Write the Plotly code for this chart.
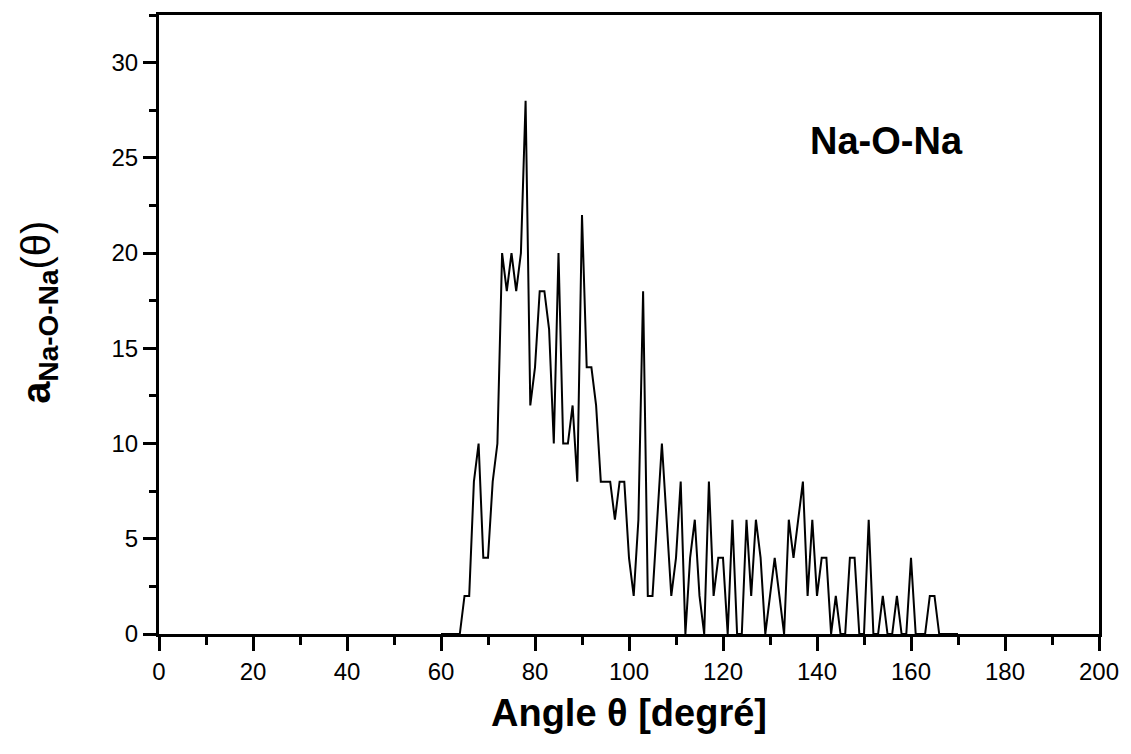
import plotly.graph_objects as go

# Angle (degrees) and distribution values
angles = list(range(60, 171))
counts = [0, 0, 0, 0, 0, 2, 2, 8, 10, 4,        # 60-69
          4, 8, 10, 20, 18, 20, 18, 20, 28, 12,  # 70-79
          14, 18, 18, 16, 10, 20, 10, 10, 12, 8,  # 80-89
          22, 14, 14, 12, 8, 8, 8, 6, 8, 8,       # 90-99
          4, 2, 6, 18, 2, 2, 6, 10, 6, 2,         # 100-109
          4, 8, 0, 4, 6, 2, 0, 8, 2, 4,           # 110-119
          4, 0, 6, 0, 0, 6, 2, 6, 4, 0,           # 120-129
          2, 4, 2, 0, 6, 4, 6, 8, 2, 6,           # 130-139
          2, 4, 4, 0, 2, 0, 0, 4, 4, 0,           # 140-149
          0, 6, 0, 0, 2, 0, 0, 2, 0, 0,           # 150-159
          4, 0, 0, 0, 2, 2, 0, 0, 0, 0,           # 160-169
          0]                                      # 170

x_ticks = [0, 20, 40, 60, 80, 100, 120, 140, 160, 180, 200]
y_ticks = [0, 5, 10, 15, 20, 25, 30]

FONT = "Liberation Sans, Arial, sans-serif"

fig = go.Figure()
fig.add_trace(go.Scatter(x=angles, y=counts, mode="lines",
                         line=dict(color="black", width=2),
                         showlegend=False, hoverinfo="x+y"))

fig.update_layout(
    width=1131, height=754,
    margin=dict(l=159, r=27, t=14, b=120),
    paper_bgcolor="white", plot_bgcolor="white",
    font=dict(family=FONT, color="black", size=24),
    xaxis=dict(range=[0, 200], tickvals=x_ticks, ticktext=[str(v) for v in x_ticks],
               ticks="outside", ticklen=14, tickwidth=2.5, tickcolor="black",
               minor=dict(dtick=10, ticks="outside", ticklen=8, tickwidth=2.5, tickcolor="black"),
               showline=True, linecolor="black", linewidth=3, mirror=True,
               showgrid=False, zeroline=False, tickfont=dict(size=24)),
    yaxis=dict(range=[0, 32.5], tickvals=y_ticks, ticktext=[str(v) for v in y_ticks],
               ticks="outside", ticklen=13, tickwidth=2.5, tickcolor="black",
               minor=dict(dtick=2.5, ticks="outside", ticklen=7, tickwidth=2.5, tickcolor="black"),
               showline=True, linecolor="black", linewidth=3, mirror=True,
               showgrid=False, zeroline=False, tickfont=dict(size=24)),
    annotations=[
        dict(text="<b>Na-O-Na</b>", x=0.774, y=0.797, xref="paper", yref="paper",
             showarrow=False, xanchor="center", yanchor="middle",
             font=dict(family=FONT, size=38, color="black")),
        dict(text="<b>Angle θ [degré]</b>", x=0.5, y=-0.128, xref="paper", yref="paper",
             showarrow=False, xanchor="center", yanchor="middle",
             font=dict(family=FONT, size=38, color="black")),
        dict(text="<b>a<sub>Na-O-Na</sub></b>(θ)", x=-0.128, y=0.52, xref="paper", yref="paper",
             showarrow=False, xanchor="center", yanchor="middle", textangle=-90,
             font=dict(family=FONT, size=40, color="black")),
    ],
)

fig.write_html("out.html")
